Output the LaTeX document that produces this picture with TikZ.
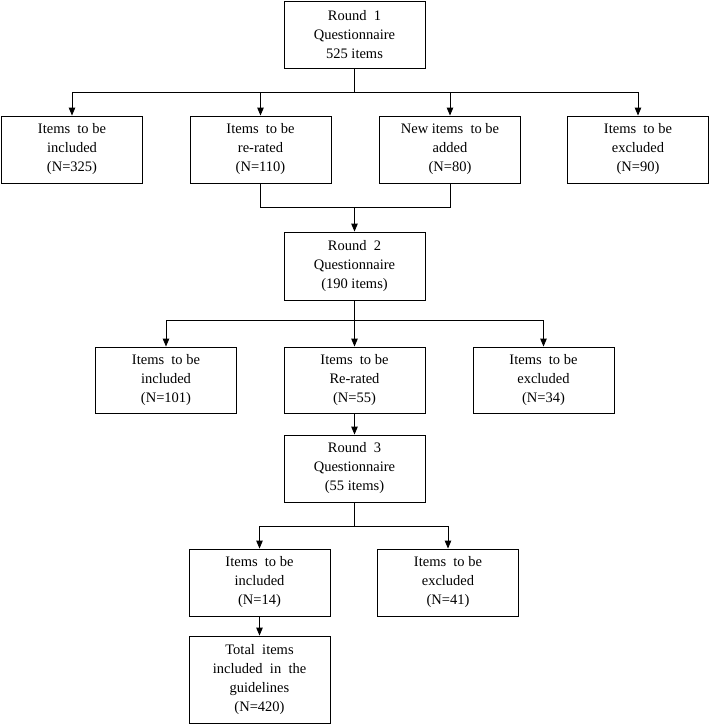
\documentclass[tikz,border=0pt]{standalone}
\usepackage{fontspec}
\setmainfont{Liberation Serif}
\usetikzlibrary{arrows.meta}
\begin{document}
\begin{tikzpicture}[x=1pt,y=-1pt,
  box/.style={draw=black, line width=0.9pt, fill=white, minimum width=141pt, minimum height=67pt, align=center, inner sep=1pt,
    font=\fontsize{14.5}{19}\selectfont},
  link/.style={line width=0.9pt},
  arr/.style={line width=0.9pt, -{Triangle[length=8pt,width=6.5pt]}}]
\useasboundingbox (0,0) rectangle (709,725);
% Round 1
\node[box] (r1) at (354.5,34.5) {Round\ \ 1\\Questionnaire\\525 items};
\node[box] (a1) at (72,149.5) {Items\ \ to be\\included\\(N=325)};
\node[box] (a2) at (260.5,149.5) {Items\ \ to be\\re-rated\\(N=110)};
\node[box] (a3) at (450,149.5) {New items\ \ to be\\added\\(N=80)};
\node[box] (a4) at (638,149.5) {Items\ \ to be\\excluded\\(N=90)};
% Round 2
\node[box, minimum height=68pt] (r2) at (354.5,266) {Round\ \ 2\\Questionnaire\\(190 items)};
\node[box, minimum height=66pt] (b1) at (166,380) {Items\ \ to be\\included\\(N=101)};
\node[box, minimum height=66pt] (b2) at (354.5,380) {Items\ \ to be\\Re-rated\\(N=55)};
\node[box, minimum height=66pt] (b3) at (543.5,380) {Items\ \ to be\\excluded\\(N=34)};
% Round 3
\node[box] (r3) at (354.5,468.5) {Round\ \ 3\\Questionnaire\\(55 items)};
\node[box] (c1) at (259.5,582.5) {Items\ \ to be\\included\\(N=14)};
\node[box] (c2) at (448,582.5) {Items\ \ to be\\excluded\\(N=41)};
\node[box, minimum height=87pt] (t) at (259.5,679.5) {Total\ \ items\\included\ \ in\ \ the\\guidelines\\(N=420)};
% connectors round 1
\coordinate (j1) at (354.5,92);
\draw[link] (r1.south) -- (j1);
\draw[arr] (j1) -| (a1.north);
\draw[arr] (j1) -| (a2.north);
\draw[arr] (j1) -| (a3.north);
\draw[arr] (j1) -| (a4.north);
\coordinate (j2) at (354.5,207);
\draw[link] (a2.south) |- (j2);
\draw[link] (a3.south) |- (j2);
\draw[arr] (j2) -- (r2.north);
% connectors round 2
\coordinate (j3) at (354.5,320);
\draw[link] (r2.south) -- (j3);
\draw[arr] (j3) -| (b1.north);
\draw[arr] (j3) -- (b2.north);
\draw[arr] (j3) -| (b3.north);
\draw[arr] (b2.south) -- (r3.north);
% connectors round 3
\coordinate (j4) at (354.5,526);
\draw[link] (r3.south) -- (j4);
\draw[arr] (j4) -| (c1.north);
\draw[arr] (j4) -| (c2.north);
\draw[arr] (c1.south) -- (t.north);
\end{tikzpicture}
\end{document}
